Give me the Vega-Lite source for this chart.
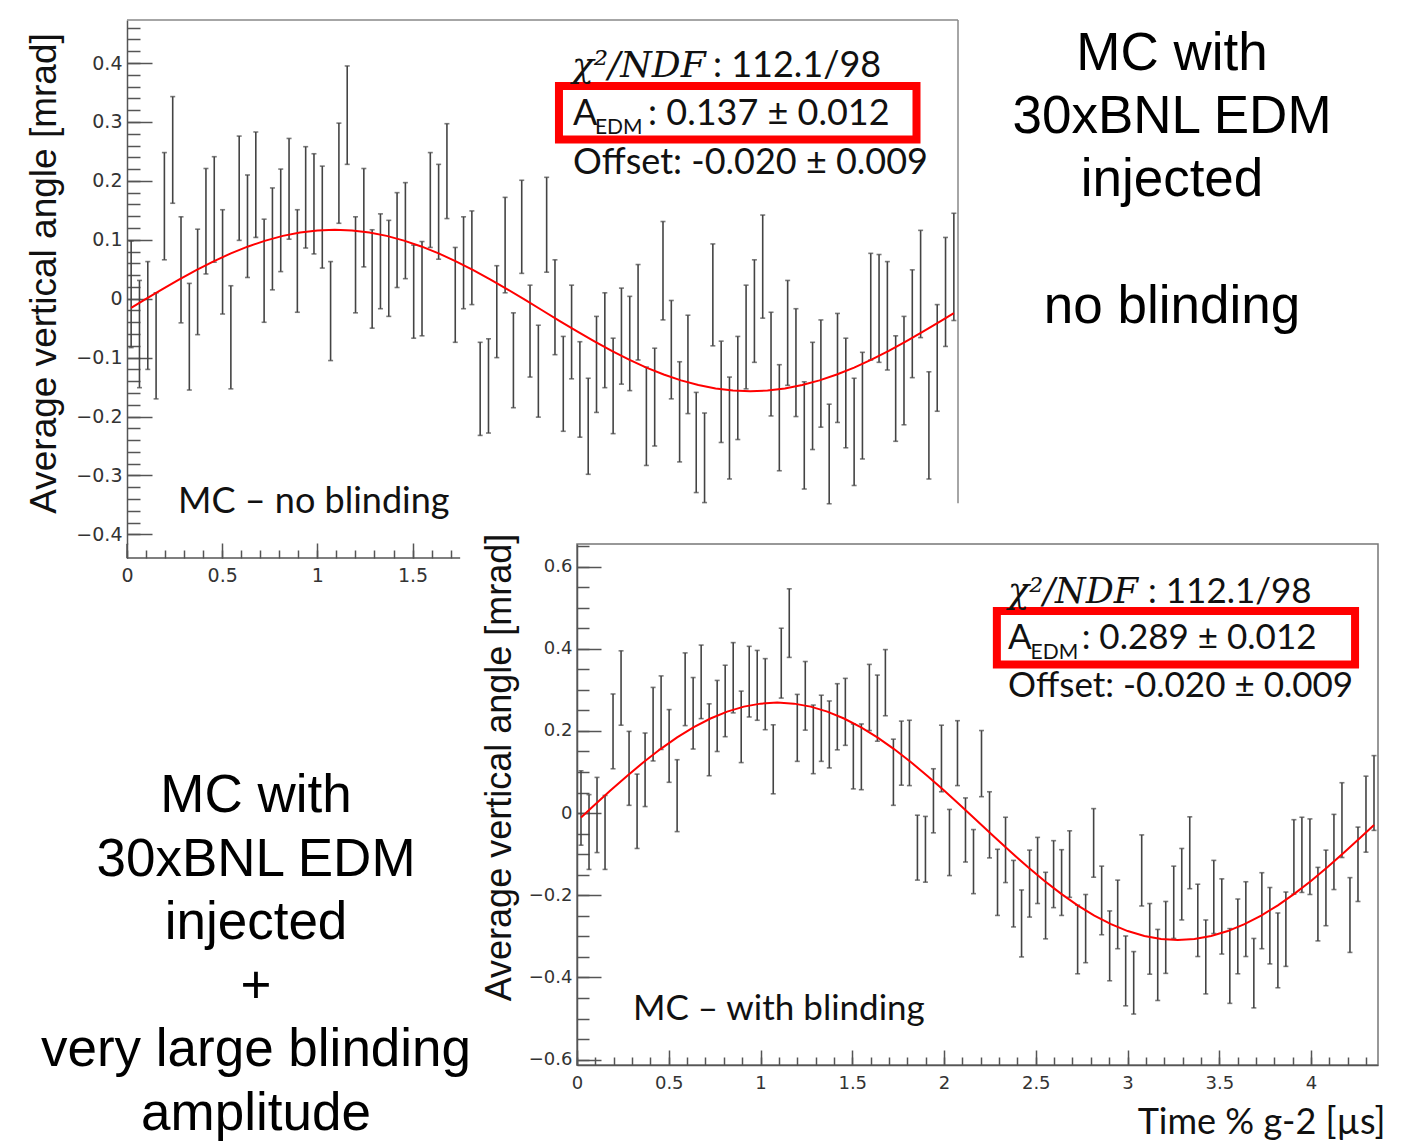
{
"$schema": "https://vega.github.io/schema/vega-lite/v6.json",
"background": "white",
"padding": {"left": 25, "top": 19, "right": 0, "bottom": 0},
"config": {"view": {"stroke": null}, "axis": {"grid": false, "labelOverlap": false, "labelFlush": false, "labelBound": false}},
"datasets": {
"top": [
{"x":0.0218,"lo":-0.083,"hi":0.098},{"x":0.0655,"lo":-0.151,"hi":0.031},{"x":0.1091,"lo":-0.120,"hi":0.063},{"x":0.1528,"lo":-0.170,"hi":0.010},{"x":0.1964,"lo":0.066,"hi":0.248},
{"x":0.2401,"lo":0.162,"hi":0.343},{"x":0.2837,"lo":-0.041,"hi":0.139},{"x":0.3274,"lo":-0.155,"hi":0.026},{"x":0.3710,"lo":-0.061,"hi":0.118},{"x":0.4147,"lo":0.042,"hi":0.221},
{"x":0.4583,"lo":0.062,"hi":0.241},{"x":0.5020,"lo":-0.026,"hi":0.151},{"x":0.5456,"lo":-0.153,"hi":0.022},{"x":0.5893,"lo":0.099,"hi":0.276},{"x":0.6329,"lo":0.036,"hi":0.210},
{"x":0.6766,"lo":0.104,"hi":0.283},{"x":0.7202,"lo":-0.040,"hi":0.135},{"x":0.7639,"lo":0.015,"hi":0.188},{"x":0.8075,"lo":0.046,"hi":0.220},{"x":0.8512,"lo":0.101,"hi":0.272},
{"x":0.8948,"lo":-0.023,"hi":0.151},{"x":0.9385,"lo":0.086,"hi":0.258},{"x":0.9821,"lo":0.076,"hi":0.246},{"x":1.0258,"lo":0.052,"hi":0.225},{"x":1.0694,"lo":-0.105,"hi":0.063},
{"x":1.1131,"lo":0.128,"hi":0.298},{"x":1.1567,"lo":0.228,"hi":0.395},{"x":1.2004,"lo":-0.024,"hi":0.139},{"x":1.2440,"lo":0.054,"hi":0.221},{"x":1.2877,"lo":-0.050,"hi":0.117},
{"x":1.3313,"lo":-0.017,"hi":0.144},{"x":1.3750,"lo":-0.030,"hi":0.133},{"x":1.4186,"lo":0.019,"hi":0.180},{"x":1.4623,"lo":0.034,"hi":0.197},{"x":1.5059,"lo":-0.067,"hi":0.091},
{"x":1.5496,"lo":-0.063,"hi":0.097},{"x":1.5932,"lo":0.087,"hi":0.248},{"x":1.6369,"lo":0.067,"hi":0.228},{"x":1.6805,"lo":0.136,"hi":0.297},{"x":1.7242,"lo":-0.074,"hi":0.087},
{"x":1.7678,"lo":-0.017,"hi":0.139},{"x":1.8115,"lo":-0.010,"hi":0.149},{"x":1.8551,"lo":-0.232,"hi":-0.074},{"x":1.8988,"lo":-0.228,"hi":-0.068},{"x":1.9424,"lo":-0.100,"hi":0.056},
{"x":1.9861,"lo":0.010,"hi":0.172},{"x":2.0297,"lo":-0.185,"hi":-0.024},{"x":2.0734,"lo":0.043,"hi":0.201},{"x":2.1170,"lo":-0.133,"hi":0.023},{"x":2.1607,"lo":-0.201,"hi":-0.045},
{"x":2.2043,"lo":0.045,"hi":0.206},{"x":2.2480,"lo":-0.095,"hi":0.066},{"x":2.2916,"lo":-0.225,"hi":-0.064},{"x":2.3353,"lo":-0.136,"hi":0.023},{"x":2.3789,"lo":-0.235,"hi":-0.073},
{"x":2.4226,"lo":-0.298,"hi":-0.135},{"x":2.4662,"lo":-0.193,"hi":-0.030},{"x":2.5099,"lo":-0.151,"hi":0.010},{"x":2.5535,"lo":-0.229,"hi":-0.067},{"x":2.5972,"lo":-0.145,"hi":0.018},
{"x":2.6408,"lo":-0.156,"hi":0.004},{"x":2.6845,"lo":-0.104,"hi":0.058},{"x":2.7281,"lo":-0.283,"hi":-0.116},{"x":2.7718,"lo":-0.250,"hi":-0.084},{"x":2.8154,"lo":-0.036,"hi":0.131},
{"x":2.8591,"lo":-0.170,"hi":-0.003},{"x":2.9027,"lo":-0.277,"hi":-0.107},{"x":2.9464,"lo":-0.195,"hi":-0.028},{"x":2.9900,"lo":-0.329,"hi":-0.159},{"x":3.0337,"lo":-0.346,"hi":-0.194},
{"x":3.0773,"lo":-0.080,"hi":0.093},{"x":3.1210,"lo":-0.244,"hi":-0.072},{"x":3.1646,"lo":-0.306,"hi":-0.133},{"x":3.2083,"lo":-0.239,"hi":-0.064},{"x":3.2519,"lo":-0.153,"hi":0.023},
{"x":3.2956,"lo":-0.108,"hi":0.066},{"x":3.3392,"lo":-0.033,"hi":0.142},{"x":3.3829,"lo":-0.199,"hi":-0.023},{"x":3.4265,"lo":-0.292,"hi":-0.112},{"x":3.4702,"lo":-0.147,"hi":0.031},
{"x":3.5138,"lo":-0.200,"hi":-0.017},{"x":3.5575,"lo":-0.323,"hi":-0.141},{"x":3.6011,"lo":-0.256,"hi":-0.074},{"x":3.6448,"lo":-0.218,"hi":-0.036},{"x":3.6884,"lo":-0.348,"hi":-0.179},
{"x":3.7321,"lo":-0.210,"hi":-0.025},{"x":3.7757,"lo":-0.253,"hi":-0.067},{"x":3.8194,"lo":-0.317,"hi":-0.135},{"x":3.8630,"lo":-0.272,"hi":-0.091},{"x":3.9067,"lo":-0.104,"hi":0.077},
{"x":3.9503,"lo":-0.108,"hi":0.075},{"x":3.9940,"lo":-0.121,"hi":0.063},{"x":4.0376,"lo":-0.242,"hi":-0.063},{"x":4.0813,"lo":-0.214,"hi":-0.030},{"x":4.1249,"lo":-0.134,"hi":0.049},
{"x":4.1686,"lo":-0.066,"hi":0.116},{"x":4.2122,"lo":-0.306,"hi":-0.124},{"x":4.2559,"lo":-0.191,"hi":-0.010},{"x":4.2995,"lo":-0.081,"hi":0.104},{"x":4.3432,"lo":-0.037,"hi":0.145}
],
"bottom": [
{"x":0.0218,"lo":-0.078,"hi":0.103},{"x":0.0655,"lo":-0.137,"hi":0.045},{"x":0.1091,"lo":-0.096,"hi":0.087},{"x":0.1528,"lo":-0.137,"hi":0.043},{"x":0.1964,"lo":0.108,"hi":0.290},
{"x":0.2401,"lo":0.214,"hi":0.395},{"x":0.2837,"lo":0.019,"hi":0.199},{"x":0.3274,"lo":-0.086,"hi":0.095},{"x":0.3710,"lo":0.016,"hi":0.195},{"x":0.4147,"lo":0.127,"hi":0.306},
{"x":0.4583,"lo":0.155,"hi":0.334},{"x":0.5020,"lo":0.075,"hi":0.252},{"x":0.5456,"lo":-0.045,"hi":0.130},{"x":0.5893,"lo":0.213,"hi":0.390},{"x":0.6329,"lo":0.156,"hi":0.330},
{"x":0.6766,"lo":0.230,"hi":0.409},{"x":0.7202,"lo":0.091,"hi":0.266},{"x":0.7639,"lo":0.150,"hi":0.323},{"x":0.8075,"lo":0.186,"hi":0.360},{"x":0.8512,"lo":0.244,"hi":0.415},
{"x":0.8948,"lo":0.123,"hi":0.297},{"x":0.9385,"lo":0.234,"hi":0.406},{"x":0.9821,"lo":0.226,"hi":0.396},{"x":1.0258,"lo":0.203,"hi":0.376},{"x":1.0694,"lo":0.047,"hi":0.215},
{"x":1.1131,"lo":0.280,"hi":0.450},{"x":1.1567,"lo":0.379,"hi":0.546},{"x":1.2004,"lo":0.126,"hi":0.289},{"x":1.2440,"lo":0.202,"hi":0.369},{"x":1.2877,"lo":0.096,"hi":0.263},
{"x":1.3313,"lo":0.126,"hi":0.287},{"x":1.3750,"lo":0.110,"hi":0.273},{"x":1.4186,"lo":0.154,"hi":0.315},{"x":1.4623,"lo":0.165,"hi":0.328},{"x":1.5059,"lo":0.059,"hi":0.217},
{"x":1.5496,"lo":0.057,"hi":0.217},{"x":1.5932,"lo":0.201,"hi":0.362},{"x":1.6369,"lo":0.175,"hi":0.336},{"x":1.6805,"lo":0.237,"hi":0.398},{"x":1.7242,"lo":0.019,"hi":0.180},
{"x":1.7678,"lo":0.068,"hi":0.224},{"x":1.8115,"lo":0.067,"hi":0.226},{"x":1.8551,"lo":-0.163,"hi":-0.005},{"x":1.8988,"lo":-0.168,"hi":-0.008},{"x":1.9424,"lo":-0.048,"hi":0.108},
{"x":1.9861,"lo":0.052,"hi":0.214},{"x":2.0297,"lo":-0.152,"hi":0.009},{"x":2.0734,"lo":0.067,"hi":0.225},{"x":2.1170,"lo":-0.119,"hi":0.037},{"x":2.1607,"lo":-0.196,"hi":-0.040},
{"x":2.2043,"lo":0.040,"hi":0.201},{"x":2.2480,"lo":-0.109,"hi":0.052},{"x":2.2916,"lo":-0.249,"hi":-0.088},{"x":2.3353,"lo":-0.169,"hi":-0.010},{"x":2.3789,"lo":-0.277,"hi":-0.115},
{"x":2.4226,"lo":-0.350,"hi":-0.187},{"x":2.4662,"lo":-0.253,"hi":-0.090},{"x":2.5099,"lo":-0.220,"hi":-0.059},{"x":2.5535,"lo":-0.306,"hi":-0.144},{"x":2.5972,"lo":-0.230,"hi":-0.067},
{"x":2.6408,"lo":-0.249,"hi":-0.089},{"x":2.6845,"lo":-0.205,"hi":-0.043},{"x":2.7281,"lo":-0.391,"hi":-0.224},{"x":2.7718,"lo":-0.364,"hi":-0.198},{"x":2.8154,"lo":-0.156,"hi":0.011},
{"x":2.8591,"lo":-0.296,"hi":-0.129},{"x":2.9027,"lo":-0.408,"hi":-0.238},{"x":2.9464,"lo":-0.330,"hi":-0.163},{"x":2.9900,"lo":-0.469,"hi":-0.299},{"x":3.0337,"lo":-0.489,"hi":-0.337},
{"x":3.0773,"lo":-0.226,"hi":-0.053},{"x":3.1210,"lo":-0.392,"hi":-0.220},{"x":3.1646,"lo":-0.456,"hi":-0.283},{"x":3.2083,"lo":-0.390,"hi":-0.215},{"x":3.2519,"lo":-0.305,"hi":-0.129},
{"x":3.2956,"lo":-0.260,"hi":-0.086},{"x":3.3392,"lo":-0.184,"hi":-0.009},{"x":3.3829,"lo":-0.349,"hi":-0.173},{"x":3.4265,"lo":-0.440,"hi":-0.260},{"x":3.4702,"lo":-0.293,"hi":-0.115},
{"x":3.5138,"lo":-0.343,"hi":-0.160},{"x":3.5575,"lo":-0.463,"hi":-0.281},{"x":3.6011,"lo":-0.391,"hi":-0.209},{"x":3.6448,"lo":-0.349,"hi":-0.167},{"x":3.6884,"lo":-0.474,"hi":-0.305},
{"x":3.7321,"lo":-0.330,"hi":-0.145},{"x":3.7757,"lo":-0.367,"hi":-0.181},{"x":3.8194,"lo":-0.425,"hi":-0.243},{"x":3.8630,"lo":-0.373,"hi":-0.192},{"x":3.9067,"lo":-0.197,"hi":-0.016},
{"x":3.9503,"lo":-0.193,"hi":-0.010},{"x":3.9940,"lo":-0.198,"hi":-0.014},{"x":4.0376,"lo":-0.311,"hi":-0.132},{"x":4.0813,"lo":-0.274,"hi":-0.090},{"x":4.1249,"lo":-0.186,"hi":-0.003},
{"x":4.1686,"lo":-0.108,"hi":0.074},{"x":4.2122,"lo":-0.339,"hi":-0.157},{"x":4.2559,"lo":-0.215,"hi":-0.034},{"x":4.2995,"lo":-0.095,"hi":0.090},{"x":4.3432,"lo":-0.042,"hi":0.140}
],
"fitTop": [
{"x":0.0218,"y":-0.0157},{"x":0.0909,"y":-0.0021},{"x":0.1819,"y":0.0155},{"x":0.2728,"y":0.0324},{"x":0.3638,"y":0.0485},{"x":0.4547,"y":0.0634},{"x":0.5456,"y":0.0769},{"x":0.6366,"y":0.0887},{"x":0.7275,"y":0.0986},{"x":0.8184,"y":0.1066},{"x":0.9094,"y":0.1123},{"x":1.0003,"y":0.1158},{"x":1.0913,"y":0.1170},{"x":1.1822,"y":0.1158},{"x":1.2731,"y":0.1123},{"x":1.3641,"y":0.1066},{"x":1.4550,"y":0.0986},{"x":1.5459,"y":0.0887},{"x":1.6369,"y":0.0769},{"x":1.7278,"y":0.0634},{"x":1.8188,"y":0.0485},{"x":1.9097,"y":0.0324},{"x":2.0006,"y":0.0155},{"x":2.0916,"y":-0.0021},{"x":2.1825,"y":-0.0200},{"x":2.2734,"y":-0.0379},{"x":2.3644,"y":-0.0555},{"x":2.4553,"y":-0.0724},{"x":2.5463,"y":-0.0885},{"x":2.6372,"y":-0.1034},{"x":2.7281,"y":-0.1169},{"x":2.8191,"y":-0.1287},{"x":2.9100,"y":-0.1386},{"x":3.0009,"y":-0.1466},{"x":3.0919,"y":-0.1523},{"x":3.1828,"y":-0.1558},{"x":3.2738,"y":-0.1570},{"x":3.3647,"y":-0.1558},{"x":3.4556,"y":-0.1523},{"x":3.5466,"y":-0.1466},{"x":3.6375,"y":-0.1386},{"x":3.7284,"y":-0.1287},{"x":3.8194,"y":-0.1169},{"x":3.9103,"y":-0.1034},{"x":4.0013,"y":-0.0885},{"x":4.0922,"y":-0.0724},{"x":4.1831,"y":-0.0555},{"x":4.2741,"y":-0.0379},{"x":4.3432,"y":-0.0243}
],
"fitBottom": [
{"x":0.0218,"y":-0.0109},{"x":0.0909,"y":0.0177},{"x":0.1819,"y":0.0548},{"x":0.2728,"y":0.0906},{"x":0.3638,"y":0.1245},{"x":0.4547,"y":0.1559},{"x":0.5456,"y":0.1844},{"x":0.6366,"y":0.2093},{"x":0.7275,"y":0.2303},{"x":0.8184,"y":0.2470},{"x":0.9094,"y":0.2592},{"x":1.0003,"y":0.2665},{"x":1.0913,"y":0.2690},{"x":1.1822,"y":0.2665},{"x":1.2731,"y":0.2592},{"x":1.3641,"y":0.2470},{"x":1.4550,"y":0.2303},{"x":1.5459,"y":0.2093},{"x":1.6369,"y":0.1844},{"x":1.7278,"y":0.1559},{"x":1.8188,"y":0.1245},{"x":1.9097,"y":0.0906},{"x":2.0006,"y":0.0548},{"x":2.0916,"y":0.0177},{"x":2.1825,"y":-0.0200},{"x":2.2734,"y":-0.0577},{"x":2.3644,"y":-0.0948},{"x":2.4553,"y":-0.1306},{"x":2.5463,"y":-0.1645},{"x":2.6372,"y":-0.1959},{"x":2.7281,"y":-0.2244},{"x":2.8191,"y":-0.2493},{"x":2.9100,"y":-0.2703},{"x":3.0009,"y":-0.2870},{"x":3.0919,"y":-0.2992},{"x":3.1828,"y":-0.3065},{"x":3.2738,"y":-0.3090},{"x":3.3647,"y":-0.3065},{"x":3.4556,"y":-0.2992},{"x":3.5466,"y":-0.2870},{"x":3.6375,"y":-0.2703},{"x":3.7284,"y":-0.2493},{"x":3.8194,"y":-0.2244},{"x":3.9103,"y":-0.1959},{"x":4.0013,"y":-0.1645},{"x":4.0922,"y":-0.1306},{"x":4.1831,"y":-0.0948},{"x":4.2741,"y":-0.0577},{"x":4.3432,"y":-0.0291}
],
"t1main": [
{"x":3.078,"y":0.376,"text":": 112.1/98"},{"x":2.343,"y":0.295,"text":"A"},{"x":2.737,"y":0.295,"text":": 0.137 ± 0.012"},{"x":2.343,"y":0.212,"text":"Offset: -0.020 ± 0.009"},{"x":0.268,"y":-0.364,"text":"MC – no blinding"}
],
"t1ital": [{"x":2.337,"y":0.376,"text":"χ²/NDF"}],
"t1sub": [{"x":2.458,"y":0.280,"text":"EDM"}],
"t1big": [
{"x":5.489,"y":0.388,"text":"MC with"},{"x":5.489,"y":0.281,"text":"30xBNL EDM"},{"x":5.489,"y":0.174,"text":"injected"},{"x":5.489,"y":-0.042,"text":"no blinding"}
],
"t2main": [
{"x":3.112,"y":0.511,"text":": 112.1/98"},{"x":2.349,"y":0.399,"text":"A"},{"x":2.750,"y":0.399,"text":": 0.289 ± 0.012"},{"x":2.349,"y":0.283,"text":"Offset: -0.020 ± 0.009"},{"x":0.305,"y":-0.504,"text":"MC – with blinding"}
],
"t2ital": [{"x":2.349,"y":0.511,"text":"χ²/NDF"}],
"t2sub": [{"x":2.472,"y":0.374,"text":"EDM"}],
"leftText": [
{"x":0.3,"y":0.003,"text":"MC with"},{"x":0.3,"y":-0.153,"text":"30xBNL EDM"},{"x":0.3,"y":-0.306,"text":"injected"},{"x":0.3,"y":-0.462,"text":"+"},{"x":0.3,"y":-0.616,"text":"very large blinding"},{"x":0.3,"y":-0.771,"text":"amplitude"}
]
},
"bounds": "flush",
"spacing": 0,
"vconcat": [
{
"width": 831, "height": 524,
"resolve": {"axis": {"x": "independent", "y": "independent"}},
"layer": [
{"data": {"name": "top"},
 "mark": {"type": "errorbar", "orient": "vertical", "color": "#444", "thickness": 1.6, "ticks": {"size": 5, "color": "#444"}},
 "encoding": {
  "x": {"field": "x", "type": "quantitative", "scale": {"domain": [0, 4.365], "nice": false, "zero": false},
   "axis": {"orient": "bottom", "title": null, "domain": false, "offset": 14, "values": [0, 0.5, 1, 1.5], "format": ".1~f",
    "tickSize": -15, "labelPadding": 23, "labelBaseline": "top", "labelFont": "DejaVu Sans", "labelFontSize": 19, "labelColor": "#333", "tickColor": "#555", "tickWidth": 1.5}},
  "y": {"field": "lo", "type": "quantitative", "scale": {"domain": [-0.4163, 0.473], "nice": false, "zero": false},
   "axis": {"orient": "left", "title": "Average vertical angle [mrad]", "values": [-0.4,-0.3,-0.2,-0.1,0,0.1,0.2,0.3,0.4], "format": ".1f",
    "labelExpr": "datum.value == 0 ? '0' : datum.label",
    "tickSize": -25, "labelPadding": 30, "labelFont": "DejaVu Sans", "labelFontSize": 19, "labelColor": "#333", "tickColor": "#555", "tickWidth": 1.5,
    "domainColor": "#555", "domainWidth": 1.5,
    "titleFont": "Liberation Sans", "titleFontSize": 37, "titleFontWeight": "normal", "titleColor": "#111", "titlePadding": 12, "titleY": 253}},
  "y2": {"field": "hi"}
 }},
{"data": {"name": "fitTop"},
 "mark": {"type": "line", "color": "#ff0000", "strokeWidth": 2},
 "encoding": {
  "x": {"field": "x", "type": "quantitative", "scale": {"domain": [0, 4.365], "nice": false, "zero": false},
   "axis": {"orient": "bottom", "title": null, "domain": false, "labels": false, "offset": 14, "values": [0,0.1,0.2,0.3,0.4,0.5,0.6,0.7,0.8,0.9,1,1.1,1.2,1.3,1.4,1.5,1.6,1.7],
    "tickSize": -8, "tickColor": "#555", "tickWidth": 1.5}},
  "y": {"field": "y", "type": "quantitative", "scale": {"domain": [-0.4163, 0.473], "nice": false, "zero": false},
   "axis": {"orient": "left", "title": null, "domain": false, "labels": false, "values": [-0.4,-0.38,-0.36,-0.34,-0.32,-0.3,-0.28,-0.26,-0.24,-0.22,-0.2,-0.18,-0.16,-0.14,-0.12,-0.1,-0.08,-0.06,-0.04,-0.02,0,0.02,0.04,0.06,0.08,0.1,0.12,0.14,0.16,0.18,0.2,0.22,0.24,0.26,0.28,0.3,0.32,0.34,0.36,0.38,0.4,0.42,0.44,0.46],
    "tickSize": -13, "tickColor": "#555", "tickWidth": 1.5}}}},
{"data": {"values": [{}]},
 "mark": {"type": "rule", "color": "#888", "strokeWidth": 1.5},
 "encoding": {
  "x": {"datum": 0, "type": "quantitative", "scale": {"domain": [0, 4.365], "nice": false, "zero": false}, "axis": null},
  "x2": {"datum": 4.365},
  "y": {"datum": 0.473, "type": "quantitative", "scale": {"domain": [-0.4163, 0.473], "nice": false, "zero": false}, "axis": null}}},
{"data": {"values": [{}]},
 "mark": {"type": "rule", "color": "#888", "strokeWidth": 1.5},
 "encoding": {
  "x": {"datum": 4.365, "type": "quantitative", "scale": {"domain": [0, 4.365], "nice": false, "zero": false}, "axis": null},
  "y": {"datum": -0.347, "type": "quantitative", "scale": {"domain": [-0.4163, 0.473], "nice": false, "zero": false}, "axis": null},
  "y2": {"datum": 0.473}}},
{"data": {"values": [{}]},
 "mark": {"type": "rule", "color": "#555", "strokeWidth": 1.5},
 "encoding": {
  "x": {"datum": 0, "type": "quantitative", "scale": {"domain": [0, 4.365], "nice": false, "zero": false}, "axis": null},
  "x2": {"datum": 1.75},
  "y": {"datum": -0.44, "type": "quantitative", "scale": {"domain": [-0.4163, 0.473], "nice": false, "zero": false}, "axis": null}}},
{"data": {"values": [{}]},
 "mark": {"type": "rule", "color": "#555", "strokeWidth": 1.5},
 "encoding": {
  "x": {"datum": 0, "type": "quantitative", "scale": {"domain": [0, 4.365], "nice": false, "zero": false}, "axis": null},
  "y": {"datum": -0.44, "type": "quantitative", "scale": {"domain": [-0.4163, 0.473], "nice": false, "zero": false}, "axis": null},
  "y2": {"datum": -0.4163}}},
{"data": {"values": [{}]},
 "mark": {"type": "rect", "fill": "white", "fillOpacity": 0, "stroke": "#ff0000", "strokeWidth": 8},
 "encoding": {
  "x": {"datum": 2.269, "type": "quantitative", "scale": {"domain": [0, 4.365], "nice": false, "zero": false}, "axis": null},
  "x2": {"datum": 4.147},
  "y": {"datum": 0.361, "type": "quantitative", "scale": {"domain": [-0.4163, 0.473], "nice": false, "zero": false}, "axis": null},
  "y2": {"datum": 0.270}}},
{"data": {"name": "t1main"},
 "mark": {"type": "text", "align": "left", "baseline": "alphabetic", "font": "Lato", "fontSize": 36, "color": "#111"},
 "encoding": {
  "x": {"field": "x", "type": "quantitative", "scale": {"domain": [0, 4.365], "nice": false, "zero": false}, "axis": null},
  "y": {"field": "y", "type": "quantitative", "scale": {"domain": [-0.4163, 0.473], "nice": false, "zero": false}, "axis": null},
  "text": {"field": "text"}}},
{"data": {"name": "t1ital"},
 "mark": {"type": "text", "align": "left", "baseline": "alphabetic", "font": "DejaVu Serif", "fontStyle": "italic", "fontSize": 36, "color": "#111"},
 "encoding": {
  "x": {"field": "x", "type": "quantitative", "scale": {"domain": [0, 4.365], "nice": false, "zero": false}, "axis": null},
  "y": {"field": "y", "type": "quantitative", "scale": {"domain": [-0.4163, 0.473], "nice": false, "zero": false}, "axis": null},
  "text": {"field": "text"}}},
{"data": {"name": "t1sub"},
 "mark": {"type": "text", "align": "left", "baseline": "alphabetic", "font": "Lato", "fontSize": 21, "color": "#111"},
 "encoding": {
  "x": {"field": "x", "type": "quantitative", "scale": {"domain": [0, 4.365], "nice": false, "zero": false}, "axis": null},
  "y": {"field": "y", "type": "quantitative", "scale": {"domain": [-0.4163, 0.473], "nice": false, "zero": false}, "axis": null},
  "text": {"field": "text"}}},
{"data": {"name": "t1big"},
 "mark": {"type": "text", "align": "center", "baseline": "alphabetic", "font": "Liberation Sans", "fontSize": 53, "color": "#000"},
 "encoding": {
  "x": {"field": "x", "type": "quantitative", "scale": {"domain": [0, 4.365], "nice": false, "zero": false}, "axis": null},
  "y": {"field": "y", "type": "quantitative", "scale": {"domain": [-0.4163, 0.473], "nice": false, "zero": false}, "axis": null},
  "text": {"field": "text"}}}
]
},
{
"bounds": "flush",
"spacing": 20,
"hconcat": [
{
"width": 430, "height": 521,
"data": {"name": "leftText"},
"mark": {"type": "text", "align": "center", "baseline": "alphabetic", "font": "Liberation Sans", "fontSize": 53, "color": "#000"},
"encoding": {
 "x": {"field": "x", "type": "quantitative", "scale": {"domain": [0, 1], "nice": false, "zero": false}, "axis": null},
 "y": {"field": "y", "type": "quantitative", "scale": {"domain": [-0.613, 0.655], "nice": false, "zero": false}, "axis": null},
 "text": {"field": "text"}}
},
{
"width": 801, "height": 521,
"view": {"stroke": "#777", "strokeWidth": 1.5, "fill": "white"},
"resolve": {"axis": {"x": "independent", "y": "independent"}},
"layer": [
{"data": {"name": "bottom"},
 "mark": {"type": "errorbar", "orient": "vertical", "color": "#444", "thickness": 1.6, "ticks": {"size": 5, "color": "#444"}},
 "encoding": {
  "x": {"field": "x", "type": "quantitative", "scale": {"domain": [0, 4.365], "nice": false, "zero": false},
   "axis": {"orient": "bottom", "title": "Time % g-2 [µs]", "values": [0,0.5,1,1.5,2,2.5,3,3.5,4], "format": ".1~f",
    "tickSize": -15, "labelPadding": 24, "labelBaseline": "top", "labelFont": "DejaVu Sans", "labelFontSize": 18, "labelColor": "#333", "tickColor": "#555", "tickWidth": 1.5,
    "domainColor": "#555", "domainWidth": 1.5,
    "titleFont": "Lato", "titleFontSize": 36, "titleFontWeight": "normal", "titleColor": "#111", "titleAnchor": "end", "titleAlign": "right", "titleX": 808, "titlePadding": 13}},
  "y": {"field": "lo", "type": "quantitative", "scale": {"domain": [-0.613, 0.655], "nice": false, "zero": false},
   "axis": {"orient": "left", "title": "Average vertical angle [mrad]", "values": [-0.6,-0.4,-0.2,0,0.2,0.4,0.6], "format": ".1f",
    "labelExpr": "datum.value == 0 ? '0' : datum.label",
    "tickSize": -24, "labelPadding": 29, "labelFont": "DejaVu Sans", "labelFontSize": 18, "labelColor": "#333", "tickColor": "#555", "tickWidth": 1.5,
    "domainColor": "#555", "domainWidth": 1.5,
    "titleFont": "Liberation Sans", "titleFontSize": 36, "titleFontWeight": "normal", "titleColor": "#111", "titlePadding": 10, "titleY": 223}},
  "y2": {"field": "hi"}
 }},
{"data": {"name": "fitBottom"},
 "mark": {"type": "line", "color": "#ff0000", "strokeWidth": 2},
 "encoding": {
  "x": {"field": "x", "type": "quantitative", "scale": {"domain": [0, 4.365], "nice": false, "zero": false},
   "axis": {"orient": "bottom", "title": null, "domain": false, "labels": false, "values": [0,0.1,0.2,0.3,0.4,0.5,0.6,0.7,0.8,0.9,1,1.1,1.2,1.3,1.4,1.5,1.6,1.7,1.8,1.9,2,2.1,2.2,2.3,2.4,2.5,2.6,2.7,2.8,2.9,3,3.1,3.2,3.3,3.4,3.5,3.6,3.7,3.8,3.9,4,4.1,4.2,4.3],
    "tickSize": -8, "tickColor": "#555", "tickWidth": 1.5}},
  "y": {"field": "y", "type": "quantitative", "scale": {"domain": [-0.613, 0.655], "nice": false, "zero": false},
   "axis": {"orient": "left", "title": null, "domain": false, "labels": false, "values": [-0.6,-0.55,-0.5,-0.45,-0.4,-0.35,-0.3,-0.25,-0.2,-0.15,-0.1,-0.05,0,0.05,0.1,0.15,0.2,0.25,0.3,0.35,0.4,0.45,0.5,0.55,0.6,0.65],
    "tickSize": -12, "tickColor": "#555", "tickWidth": 1.5}}}},
{"data": {"values": [{}]},
 "mark": {"type": "rect", "fill": "white", "fillOpacity": 0, "stroke": "#ff0000", "strokeWidth": 8},
 "encoding": {
  "x": {"datum": 2.288, "type": "quantitative", "scale": {"domain": [0, 4.365], "nice": false, "zero": false}, "axis": null},
  "x2": {"datum": 4.240},
  "y": {"datum": 0.492, "type": "quantitative", "scale": {"domain": [-0.613, 0.655], "nice": false, "zero": false}, "axis": null},
  "y2": {"datum": 0.362}}},
{"data": {"name": "t2main"},
 "mark": {"type": "text", "align": "left", "baseline": "alphabetic", "font": "Lato", "fontSize": 35, "color": "#111"},
 "encoding": {
  "x": {"field": "x", "type": "quantitative", "scale": {"domain": [0, 4.365], "nice": false, "zero": false}, "axis": null},
  "y": {"field": "y", "type": "quantitative", "scale": {"domain": [-0.613, 0.655], "nice": false, "zero": false}, "axis": null},
  "text": {"field": "text"}}},
{"data": {"name": "t2ital"},
 "mark": {"type": "text", "align": "left", "baseline": "alphabetic", "font": "DejaVu Serif", "fontStyle": "italic", "fontSize": 35, "color": "#111"},
 "encoding": {
  "x": {"field": "x", "type": "quantitative", "scale": {"domain": [0, 4.365], "nice": false, "zero": false}, "axis": null},
  "y": {"field": "y", "type": "quantitative", "scale": {"domain": [-0.613, 0.655], "nice": false, "zero": false}, "axis": null},
  "text": {"field": "text"}}},
{"data": {"name": "t2sub"},
 "mark": {"type": "text", "align": "left", "baseline": "alphabetic", "font": "Lato", "fontSize": 21, "color": "#111"},
 "encoding": {
  "x": {"field": "x", "type": "quantitative", "scale": {"domain": [0, 4.365], "nice": false, "zero": false}, "axis": null},
  "y": {"field": "y", "type": "quantitative", "scale": {"domain": [-0.613, 0.655], "nice": false, "zero": false}, "axis": null},
  "text": {"field": "text"}}}
]
}
]
}
]
}
